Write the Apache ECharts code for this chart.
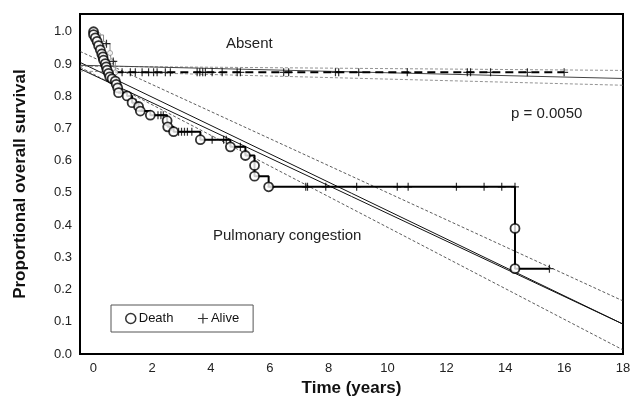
<!DOCTYPE html>
<html>
<head>
<meta charset="utf-8">
<script src="https://cdn.jsdelivr.net/npm/echarts@6/dist/echarts.min.js"></script>
<style>
  html, body { margin: 0; padding: 0; background: #fff; }
  #chart { width: 640px; height: 402px; }
</style>
</head>
<body>
<div id="chart"></div>
<script>
// tick labels
const xTicks = [0, 2, 4, 6, 8, 10, 12, 14, 16, 18]
const yTicks = [0, 0.1, 0.2, 0.3, 0.4, 0.5, 0.6, 0.7, 0.8, 0.9, 1.0]

// pulmonary congestion: deaths (time, survival)
const congDeathT = [0.01, 0.01, 0.07, 0.13, 0.18, 0.24, 0.29, 0.33, 0.35, 0.41, 0.44, 0.47, 0.52, 0.56, 0.64, 0.75, 0.78, 0.83, 0.86,
  1.15, 1.32, 1.54, 1.6, 1.94, 2.51, 2.53, 2.73, 3.64, 4.66, 5.17, 5.48, 5.48, 5.96, 14.33, 14.33]
const congDeathS = [1.0, 0.991, 0.981, 0.970, 0.957, 0.944, 0.931, 0.922, 0.912, 0.901, 0.891, 0.881, 0.871, 0.860, 0.854, 0.847, 0.837, 0.826, 0.811,
  0.801, 0.780, 0.768, 0.754, 0.741, 0.724, 0.705, 0.690, 0.665, 0.643, 0.616, 0.585, 0.552, 0.519, 0.39, 0.265]
// pulmonary congestion: censored (alive)
const congCensT = [1.45, 2.2, 2.3, 2.38, 2.9, 3.0, 3.1, 3.2, 3.35, 4.04, 4.43, 4.52, 5.0, 6.05, 7.22, 7.28, 7.9, 8.95, 10.33, 10.7, 12.34, 13.28, 13.88, 14.33, 15.5]
const congCensS = [0.780, 0.741, 0.741, 0.741, 0.690, 0.690, 0.690, 0.690, 0.690, 0.665, 0.665, 0.665, 0.643, 0.519, 0.519, 0.519, 0.519, 0.519, 0.519, 0.519, 0.519, 0.519, 0.519, 0.519, 0.265]

// absent: deaths
const absDeathT = [0.17, 0.35, 0.57, 0.62, 0.75]
const absDeathS = [0.99, 0.963, 0.934, 0.908, 0.874]
// absent: censored
const absCensT = [0.45, 0.68, 0.98, 1.26, 1.43, 1.66, 1.88, 2.05, 2.17, 2.45, 2.62, 3.53, 3.62, 3.72, 3.81, 4.04, 4.38, 4.89, 5.0,
  6.47, 6.64, 8.23, 8.34, 9.02, 10.67, 12.71, 12.82, 13.5, 14.75, 16.0]
const absCensS = [0.963, 0.908, 0.874, 0.874, 0.874, 0.874, 0.874, 0.874, 0.874, 0.874, 0.874, 0.874, 0.874, 0.874, 0.874, 0.874, 0.874, 0.874, 0.874,
  0.874, 0.874, 0.874, 0.874, 0.874, 0.874, 0.874, 0.874, 0.874, 0.874, 0.874]

// fitted lines (value at left edge, value at x = 18)
const fitX = [-0.45, 18]
const congFitA = [0.905, 0.093]
const congFitB = [0.885, 0.093]
const congFitUpper = [0.939, 0.165]
const congFitLower = [0.89, 0.013]
const absFit = [0.896, 0.855]
const absFitUpper = [0.893, 0.880]
const absFitLower = [0.878, 0.834]

const pairs = (xs, ys) => xs.map((x, i) => [x, ys[i]])
const plusPath = 'path://M5,0L5,10M0,5L10,5'

// step line for each group
const congLine = [[0, 1.0]].concat(pairs(congDeathT, congDeathS), [[congCensT[congCensT.length - 1], congCensS[congCensS.length - 1]]])
const absEarly = [[0, 1.0]].concat(pairs(absDeathT, absDeathS))
const absFlat = [[absDeathT[absDeathT.length - 1], absDeathS[absDeathS.length - 1]], [absCensT[absCensT.length - 1], absCensS[absCensS.length - 1]]]

const fitLine = (vals, dashed, color, width) => ({
  type: 'line',
  data: pairs(fitX, vals),
  symbol: 'none',
  silent: true,
  z: 1,
  lineStyle: { color: color, width: width, type: dashed ? [3, 2] : 'solid' }
})

const chart = echarts.init(document.getElementById('chart'))
chart.setOption({
  animation: false,
  textStyle: { fontFamily: 'Liberation Sans, Arial, sans-serif' },
  grid: { left: 80, right: 17, top: 14, bottom: 45, show: true, borderColor: '#000', borderWidth: 2 },
  xAxis: {
    type: 'value', min: -0.45, max: 18,
    name: 'Time (years)', nameLocation: 'middle', nameGap: 23,
    nameTextStyle: { fontSize: 17, fontWeight: 'bold', color: '#111' },
    axisLine: { show: false }, axisTick: { show: false }, splitLine: { show: false },
    axisLabel: { customValues: xTicks, fontSize: 13, color: '#222', margin: 8 }
  },
  yAxis: {
    type: 'value', min: 0, max: 1.055,
    name: 'Proportional overall survival', nameLocation: 'middle', nameGap: 51,
    nameTextStyle: { fontSize: 17, fontWeight: 'bold', color: '#111' },
    axisLine: { show: false }, axisTick: { show: false }, splitLine: { show: false },
    axisLabel: { customValues: yTicks, fontSize: 13, color: '#222', margin: 8, formatter: v => v.toFixed(1) }
  },
  legend: {
    left: 111, top: 305, orient: 'horizontal',
    padding: [6, 14], itemGap: 22, itemWidth: 10, itemHeight: 10,
    borderColor: '#555', borderWidth: 1,
    textStyle: { fontSize: 13, color: '#111', padding: [0, 0, 0, -2] },
    data: [
      { name: 'Death', icon: 'circle', itemStyle: { color: '#fff', borderColor: '#000', borderWidth: 1.5 } },
      { name: 'Alive', icon: plusPath, itemStyle: { color: 'none', borderColor: '#000', borderWidth: 1.2 } }
    ]
  },
  graphic: [
    { type: 'text', left: 226, top: 36, style: { text: 'Absent', fontSize: 15, fill: '#222', fontFamily: 'Liberation Sans, Arial' } },
    { type: 'text', left: 511, top: 106, style: { text: 'p = 0.0050', fontSize: 15, fill: '#222', fontFamily: 'Liberation Sans, Arial' } },
    { type: 'text', left: 213, top: 228, style: { text: 'Pulmonary congestion', fontSize: 15, fill: '#222', fontFamily: 'Liberation Sans, Arial' } }
  ],
  series: [
    fitLine(congFitUpper, true, '#333', 0.8),
    fitLine(congFitA, false, '#111', 1),
    fitLine(congFitB, false, '#111', 1),
    fitLine(congFitLower, true, '#333', 0.8),
    fitLine(absFitUpper, true, '#777', 0.8),
    fitLine(absFit, false, '#444', 1),
    fitLine(absFitLower, true, '#777', 0.8),
    {
      type: 'line', step: 'end', data: absEarly, symbol: 'none', silent: true, z: 2,
      lineStyle: { color: '#888', width: 1 }
    },
    {
      type: 'line', data: absFlat, symbol: 'none', silent: true, z: 2,
      lineStyle: { color: '#000', width: 2, type: [8, 5] }
    },
    {
      type: 'scatter', data: pairs(absDeathT, absDeathS), symbol: 'circle', symbolSize: 5, z: 3,
      itemStyle: { color: '#fff', borderColor: '#888', borderWidth: 1 }
    },
    {
      type: 'scatter', data: pairs(absCensT, absCensS), symbol: plusPath, symbolSize: 8, z: 3,
      itemStyle: { color: 'none', borderColor: '#000', borderWidth: 1.2 }
    },
    {
      type: 'line', step: 'end', data: congLine, symbol: 'none', silent: true, z: 4,
      lineStyle: { color: '#000', width: 2 }
    },
    {
      name: 'Alive', type: 'scatter', data: pairs(congCensT, congCensS), symbol: plusPath, symbolSize: 8, z: 5,
      itemStyle: { color: 'none', borderColor: '#000', borderWidth: 1.2 }
    },
    {
      name: 'Death', type: 'scatter', data: pairs(congDeathT, congDeathS), symbol: 'circle', symbolSize: 9, z: 6,
      itemStyle: { color: '#fff', borderColor: '#000', borderWidth: 1.8 }
    }
  ]
})
</script>
</body>
</html>
